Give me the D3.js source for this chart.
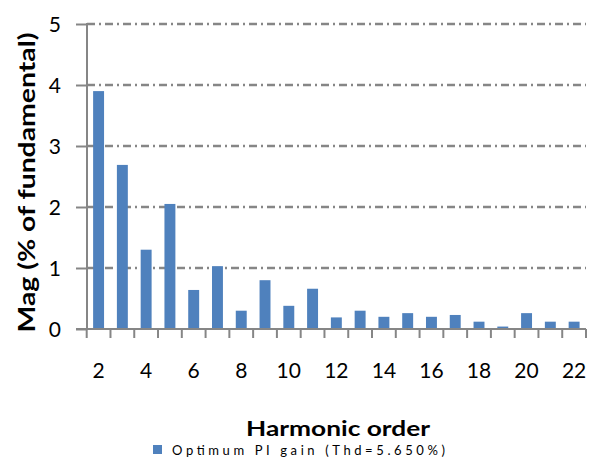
<!DOCTYPE html>
<html>
<head>
<meta charset="utf-8">
<script src="https://cdn.jsdelivr.net/npm/d3@7"></script>
<style>
  body { margin: 0; background: #fff; }
  #graph { width: 590px; height: 458px; }
  text { font-family: Lato, "Liberation Sans", sans-serif; fill: #000; }
</style>
</head>
<body>
<div id="graph"></div>
<script>
// harmonic orders and magnitudes (% of fundamental)
const orders = [2, 3, 4, 5, 6, 7, 8, 9, 10, 11, 12, 13, 14, 15, 16, 17, 18, 19, 20, 21, 22];
const mags = [3.90, 2.69, 1.30, 2.05, 0.64, 1.03, 0.30, 0.80, 0.38, 0.66, 0.19, 0.30, 0.20, 0.26, 0.20, 0.23, 0.12, 0.04, 0.26, 0.12, 0.12];
const y_ticks = [0, 1, 2, 3, 4, 5];
const x_labels = [2, 4, 6, 8, 10, 12, 14, 16, 18, 20, 22];
const series_name = "Optimum PI gain (Thd=5.650%)";

const width = 590, height = 458;
const plot_left = 87, plot_right = 586, plot_top = 24, plot_bottom = 329;
const axis_color = '#868686';
const bar_color = '#4f81bd';

const svg = d3.select('#graph')
  .append('svg')
  .attr('width', width)
  .attr('height', height);

const x = d3.scaleBand()
  .domain(orders)
  .range([plot_left - 0.3, plot_right])
  .paddingInner(0.54)
  .paddingOuter(0.27);

const y = d3.scaleLinear()
  .domain([0, 5])
  .range([plot_bottom, plot_top]);

// horizontal dash-dot gridlines (skip zero, that's the axis)
svg.append('g')
  .selectAll('line')
  .data(y_ticks.filter(d => d > 0))
  .join('line')
  .attr('x1', plot_left)
  .attr('x2', plot_right)
  .attr('y1', d => y(d))
  .attr('y2', d => y(d))
  .attr('stroke', axis_color)
  .attr('stroke-width', 2.5)
  .attr('stroke-dasharray', '8,4,2,4');

// bars
svg.append('g')
  .selectAll('rect')
  .data(orders)
  .join('rect')
  .attr('x', (d) => x(d))
  .attr('width', x.bandwidth())
  .attr('y', (d, i) => y(mags[i]))
  .attr('height', (d, i) => y(0) - y(mags[i]))
  .attr('fill', bar_color);

// y axis
const yAxis = svg.append('g')
  .attr('transform', `translate(${plot_left},0)`)
  .call(d3.axisLeft(y).tickValues(y_ticks).tickSize(11).tickPadding(15).tickFormat(d3.format('d')));
yAxis.select('.domain').attr('stroke', axis_color).attr('stroke-width', 2).attr('d', `M0,${plot_top - 1}V${plot_bottom}`);
yAxis.selectAll('.tick line').attr('stroke', axis_color).attr('stroke-width', 2);
yAxis.selectAll('.tick text').attr('font-size', 21).attr('font-family', 'Lato, sans-serif').attr('dy', '0.36em');

// x axis: tick marks on band edges, labels on every other category
const edges = orders.map(d => x(d) - x.step() * x.paddingInner() / 2).concat([plot_right]);
const xg = svg.append('g');
xg.append('line')
  .attr('x1', plot_left - 11).attr('x2', plot_right)
  .attr('y1', plot_bottom).attr('y2', plot_bottom)
  .attr('stroke', axis_color).attr('stroke-width', 2);
xg.selectAll('line.tk')
  .data(edges)
  .join('line')
  .attr('class', 'tk')
  .attr('x1', d => d).attr('x2', d => d)
  .attr('y1', plot_bottom).attr('y2', plot_bottom + 9)
  .attr('stroke', axis_color).attr('stroke-width', 2);
xg.selectAll('text')
  .data(x_labels)
  .join('text')
  .attr('x', d => x(d) + x.bandwidth() / 2)
  .attr('y', 378)
  .attr('text-anchor', 'middle')
  .attr('font-size', 21)
  .text(d => d);

// axis titles
svg.append('text')
  .attr('transform', `translate(35,${(32 + 333) / 2}) rotate(-90)`)
  .attr('text-anchor', 'middle')
  .attr('font-size', 23)
  .attr('font-weight', 'bold')
  .attr('textLength', 300)
  .attr('lengthAdjust', 'spacingAndGlyphs')
  .text('Mag (% of fundamental)');

svg.append('text')
  .attr('x', 338)
  .attr('y', 436)
  .attr('text-anchor', 'middle')
  .attr('font-size', 20)
  .attr('font-weight', 'bold')
  .attr('textLength', 184)
  .attr('lengthAdjust', 'spacingAndGlyphs')
  .text('Harmonic order');

// legend
const lg = svg.append('g');
lg.append('rect')
  .attr('x', 153).attr('y', 445)
  .attr('width', 9).attr('height', 9)
  .attr('fill', bar_color);
lg.append('text')
  .attr('x', 172).attr('y', 455)
  .attr('font-size', 13)
  .attr('textLength', 273)
  .attr('lengthAdjust', 'spacing')
  .text(series_name);
</script>
</body>
</html>
